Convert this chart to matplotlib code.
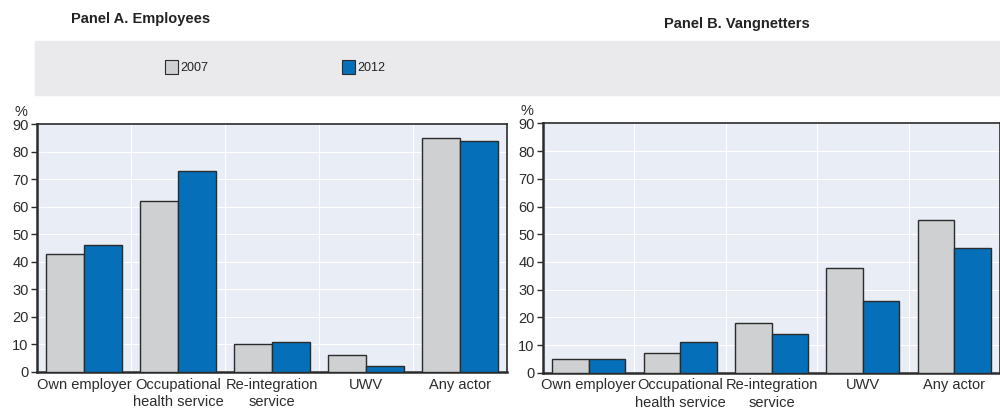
import numpy as np
import matplotlib.pyplot as plt
from matplotlib.patches import Rectangle

plt.rcParams['font.family'] = ['Liberation Sans', 'DejaVu Sans']

#data#
categories = ["Own employer", "Occupational\nhealth service", "Re-integration\nservice", "UWV", "Any actor"]
years = ["2007", "2012"]
employees_2007 = [43, 62, 10, 6, 85]
employees_2012 = [46, 73, 11, 2, 84]
vangnetters_2007 = [5, 7, 18, 38, 55]
vangnetters_2012 = [5, 11, 14, 26, 45]

c2007 = "#CFD0D2"
c2012 = "#0570B9"
edge = "#2b2b2b"
bg = "#E9EDF5"

fig = plt.figure(figsize=(10, 4.17), dpi=100)

# legend band
fig.patches.append(Rectangle((0.035, 0.772), 0.965, 0.13, transform=fig.transFigure,
                             color="#EAEAEC", zorder=0))

axA = fig.add_axes([0.037, 0.108, 0.470, 0.594])
axB = fig.add_axes([0.543, 0.106, 0.457, 0.598])

def draw(ax, v1, v2, title, tx, ty):
    x = np.arange(len(categories))
    w = 0.4
    ax.set_facecolor(bg)
    ax.bar(x - w/2, v1, w, color=c2007, edgecolor=edge, linewidth=1, zorder=3)
    ax.bar(x + w/2, v2, w, color=c2012, edgecolor=edge, linewidth=1, zorder=3)
    ax.set_xlim(-0.5, len(categories) - 0.5)
    ax.set_ylim(0, 90)
    ax.set_yticks(range(0, 91, 10))
    ax.set_xticks(x)
    ax.set_xticklabels(categories, size=10.5, color="#2b2b2b", linespacing=1.3)
    ax.tick_params(axis='x', length=0, pad=4)
    ax.tick_params(axis='y', labelsize=10.5, labelcolor="#2b2b2b", length=4, width=1, color=edge, pad=2)
    for yv in range(10, 90, 10):
        ax.axhline(yv, color="white", lw=0.8, zorder=1)
    for xv in np.arange(0.5, len(categories) - 0.5, 1):
        ax.axvline(xv, color="white", lw=0.8, zorder=1)
    for s in ax.spines.values():
        s.set_color(edge)
        s.set_linewidth(1.2)
    ax.spines['left'].set_linewidth(1.8)
    ax.spines['bottom'].set_linewidth(1.8)
    ax.text(-0.035, 1.02, "%", transform=ax.transAxes, size=10.5, color="#2b2b2b",
            ha="center", va="bottom")
    fig.text(tx, ty, title, ha="center", va="center", size=10.5, weight="bold", color="#222222")

draw(axA, employees_2007, employees_2012, "Panel A. Employees", 0.141, 0.955)
draw(axB, vangnetters_2007, vangnetters_2012, "Panel B. Vangnetters", 0.737, 0.942)

# legend
for col, lab, lx in [(c2007, years[0], 0.165), (c2012, years[1], 0.342)]:
    fig.patches.append(Rectangle((lx, 0.822), 0.013, 0.033, transform=fig.transFigure,
                                 facecolor=col, edgecolor=edge, linewidth=0.8, zorder=2))
    fig.text(lx + 0.015, 0.838, lab, ha="left", va="center", size=9, color="#222222")

plt.savefig("out.png", dpi=100)
